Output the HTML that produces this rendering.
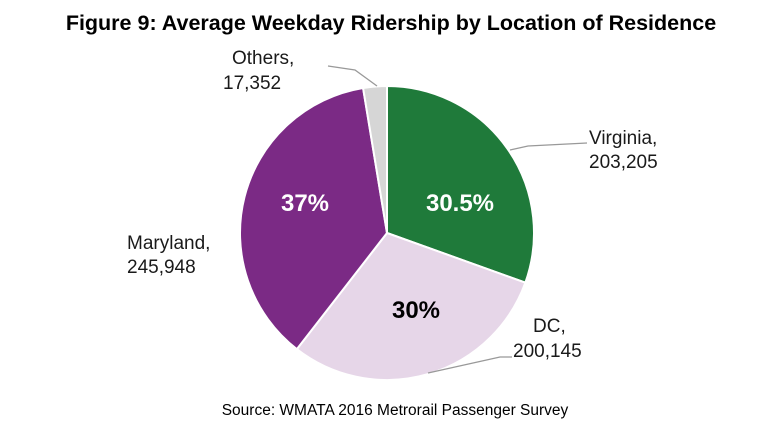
<!DOCTYPE html><html><head><style>body{margin:0;background:#fff}svg{display:block;font-family:"Liberation Sans",Arial,sans-serif}</style></head><body>
<svg id="s" width="781" height="437" viewBox="0 0 781 437">
<text x="391" y="30" text-anchor="middle" font-size="21.5" font-weight="bold" fill="#000">Figure 9: Average Weekday Ridership by Location of Residence</text>
<g id="pie"></g>
<g stroke="#999" stroke-width="1.3" fill="none">
<polyline points="510,150 528,146 587,143"/>
<polyline points="428,373 500,357 512,357"/>
<polyline points="377,86 355,70 328,66"/>
</g>
<g font-size="19" fill="#1a1a1a">
<text x="232" y="64">Others,</text><text x="223" y="89">17,352</text>
<text x="589" y="144">Virginia,</text><text x="589" y="168">203,205</text>
<text x="127" y="249">Maryland,</text><text x="127" y="273">245,948</text>
<text x="533" y="332">DC,</text><text x="513" y="357">200,145</text>
</g>
<g font-size="24" font-weight="bold" text-anchor="middle">
<text x="460" y="211" fill="#fff">30.5%</text>
<text x="305" y="211" fill="#fff">37%</text>
<text x="416" y="318" fill="#000">30%</text>
</g>
<text x="395" y="415" text-anchor="middle" font-size="15.5" fill="#000">Source: WMATA 2016 Metrorail Passenger Survey</text>
</svg>
<script>
var cx=387,cy=233,r=147,v=[203205,200145,245948,17352],c=["#1f7a3a","#e6d6e8","#7b2a85","#d6d6d6"];
var t=v.reduce((a,b)=>a+b),a=0,h="";
for(var i=0;i<4;i++){var a2=a+v[i]/t*2*Math.PI;
var x1=cx+r*Math.sin(a),y1=cy-r*Math.cos(a),x2=cx+r*Math.sin(a2),y2=cy-r*Math.cos(a2);
h+='<path d="M'+cx+','+cy+'L'+x1+','+y1+'A'+r+','+r+' 0 '+((a2-a)>Math.PI?1:0)+' 1 '+x2+','+y2+'Z" fill="'+c[i]+'" stroke="#fff" stroke-width="2"/>';a=a2;}
document.getElementById("pie").innerHTML=h;
</script>
</body></html>
